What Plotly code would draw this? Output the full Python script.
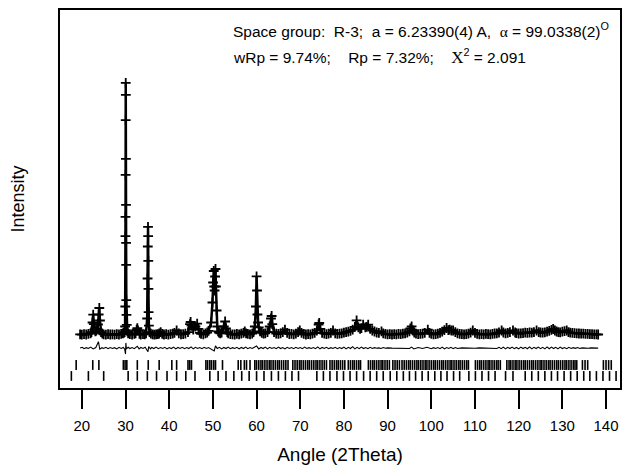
import plotly.graph_objects as go

# ---------------- data ----------------
two_theta_obs = [
    19.6, 20.0, 20.5, 21.0, 21.5, 22.0, 22.2, 22.45, 22.6, 22.75, 22.9, 23.1, 23.3, 23.55, 23.7,
    23.85, 24.0, 24.15, 24.4, 24.7, 25.0, 25.5, 26.0, 26.5, 27.0, 27.5, 28.0, 28.5, 29.0, 29.4,
    29.6, 29.8, 29.9, 29.95, 29.98, 30.0, 30.02, 30.04, 30.05, 30.07, 30.09, 30.11, 30.13, 30.15, 30.18,
    30.22, 30.28, 30.4, 30.6, 31.0, 31.5, 32.0, 32.3, 32.55, 32.7, 32.85, 33.2, 33.5, 34.0, 34.4,
    34.7, 34.95, 35.05, 35.1, 35.15, 35.18, 35.21, 35.24, 35.28, 35.35, 35.5, 35.8, 36.2, 36.6, 37.0,
    37.4, 37.7, 38.05, 38.4, 38.8, 39.3, 39.8, 40.3, 40.8, 41.2, 41.7, 42.2, 42.7, 43.2, 43.7,
    44.3, 44.75, 44.9, 45.1, 45.5, 46.0, 46.4, 46.7, 47.0, 47.3, 47.8, 48.3, 48.7, 49.0, 49.6,
    49.9, 50.05, 50.2, 50.3, 50.4, 50.5, 50.6, 50.7, 50.85, 51.0, 51.2, 51.4, 51.7, 52.0, 52.5,
    52.8, 53.0, 53.3, 53.5, 54.0, 54.5, 55.0, 55.5, 56.0, 56.5, 57.0, 57.3, 57.6, 58.0, 58.5,
    59.0, 59.3, 59.6, 59.85, 60.0, 60.1, 60.2, 60.35, 60.5, 60.8, 61.2, 61.6, 62.0, 62.5, 63.0,
    63.3, 63.45, 63.6, 64.0, 64.5, 65.0, 65.5, 66.0, 66.5, 67.0, 67.5, 68.0, 68.5, 69.0, 69.5,
    69.9, 70.3, 70.8, 71.3, 71.8, 72.3, 72.8, 73.3, 73.8, 74.2, 74.35, 74.6, 75.0, 75.5, 76.0,
    76.5, 77.0, 77.5, 78.0, 78.5, 79.0, 79.5, 80.0, 80.5, 81.0, 81.5, 82.0, 82.5, 82.9, 83.3,
    83.7, 84.0, 84.4, 84.9, 85.2, 85.55, 86.0, 86.5, 87.0, 87.5, 88.0, 88.6, 89.0, 89.5, 90.0,
    90.5, 91.0, 91.5, 92.0, 92.5, 93.0, 93.5, 94.0, 94.5, 95.0, 95.2, 95.5, 95.8, 96.1, 96.5,
    97.0, 97.5, 98.0, 98.5, 99.2, 99.6, 100.0, 100.5, 101.0, 101.5, 102.0, 102.5, 103.0, 103.5, 103.9,
    104.2, 104.6, 105.0, 105.5, 106.0, 106.5, 107.0, 107.5, 108.0, 108.5, 109.0, 109.5, 110.0, 110.5, 111.0,
    111.5, 112.0, 112.5, 113.0, 113.5, 114.0, 114.5, 115.0, 115.5, 116.1, 116.5, 117.0, 117.5, 118.0, 118.7,
    119.2, 119.5, 120.0, 120.5, 121.0, 121.5, 122.0, 122.5, 123.0, 123.5, 124.1, 124.6, 125.0, 125.5, 126.0,
    126.5, 127.0, 127.5, 127.9, 128.3, 128.7, 129.1, 129.5, 130.0, 130.5, 131.0, 131.4, 131.8, 132.3, 132.8,
    133.3, 133.8, 134.3, 134.8, 135.3, 135.8, 136.3, 136.8, 137.3, 137.8, 138.2,
]
intensity_obs = [
    505, 495, 510, 500, 515, 530, 560, 800, 995, 760, 620, 580, 600, 640, 750,
    1000, 1162, 850, 560, 520, 505, 495, 510, 500, 505, 495, 510, 500, 515, 530,
    540, 560, 700, 1200, 2960, 3440, 4490, 5860, 6790, 6490, 4890, 3740, 2790, 2240, 1360,
    990, 740, 580, 530, 510, 500, 515, 530, 620, 660, 600, 515, 500, 510, 505,
    530, 900, 1900, 2700, 3190, 2960, 2340, 1640, 1060, 720, 560, 520, 505, 495, 505,
    510, 525, 560, 515, 500, 510, 495, 510, 520, 540, 600, 530, 505, 510, 520,
    560, 760, 812, 720, 620, 700, 770, 640, 540, 515, 505, 530, 550, 590, 800,
    1300, 1800, 2087, 1700, 1600, 1950, 2137, 1700, 1100, 700, 580, 550, 530, 550, 700,
    825, 650, 560, 530, 510, 505, 500, 515, 505, 520, 540, 580, 530, 515, 505,
    520, 560, 700, 1200, 1955, 1600, 1000, 800, 680, 580, 540, 520, 530, 560, 700,
    900, 962, 760, 560, 520, 515, 530, 560, 620, 540, 510, 515, 505, 520, 560,
    600, 540, 515, 500, 510, 505, 520, 540, 600, 750, 787, 640, 540, 520, 510,
    520, 540, 600, 530, 515, 520, 530, 545, 560, 570, 590, 620, 690, 855, 680,
    640, 660, 745, 680, 690, 745, 640, 600, 575, 550, 540, 580, 530, 515, 505,
    510, 500, 510, 505, 515, 510, 520, 530, 545, 580, 650, 705, 600, 550, 520,
    510, 515, 520, 540, 620, 540, 515, 505, 510, 520, 540, 570, 610, 662, 610,
    620, 600, 600, 560, 530, 515, 510, 505, 510, 520, 545, 600, 540, 515, 505,
    510, 505, 515, 510, 505, 515, 525, 530, 550, 600, 550, 530, 540, 560, 600,
    550, 535, 525, 530, 535, 545, 540, 550, 545, 560, 600, 560, 550, 545, 555,
    570, 590, 615, 637, 600, 575, 560, 555, 570, 585, 600, 560, 545, 540, 535,
    530, 525, 520, 520, 515, 515, 510, 510, 505, 505, 500,
]

two_theta_diff = [
    19.6, 20.1, 20.5, 21.0, 21.5, 22.0, 22.6, 23.2, 23.8, 24.1, 24.6, 25.0, 25.5, 26.0, 26.5,
    27.0, 27.5, 28.0, 28.5, 29.0, 29.5, 29.8, 30.0, 30.08, 30.2, 30.6, 31.0, 31.5, 32.0, 32.7,
    33.1, 33.5, 34.0, 34.5, 35.15, 35.3, 35.7, 36.0, 36.5, 37.0, 37.5, 38.0, 38.5, 39.0, 39.5,
    40.0, 40.5, 41.0, 41.5, 42.0, 42.5, 43.0, 43.5, 44.0, 44.5, 45.0, 45.5, 46.0, 46.5, 47.0,
    47.5, 48.0, 48.5, 49.0, 49.5, 50.3, 50.6, 51.0, 51.5, 52.0, 52.5, 53.0, 53.5, 54.0, 54.5,
    55.0, 55.5, 56.0, 56.5, 57.0, 57.5, 58.0, 58.5, 59.0, 59.5, 60.0, 60.5, 61.0, 61.5, 62.0,
    62.5, 63.0, 63.5, 64.0, 64.5, 65.0, 65.5, 66.0, 66.5, 67.0, 67.5, 68.0, 68.5, 69.0, 69.5,
    70.0, 70.5, 71.0, 71.5, 72.0, 72.5, 73.0, 73.5, 74.0, 74.5, 75.0, 75.5, 76.0, 76.5, 77.0,
    77.5, 78.0, 78.5, 79.0, 79.5, 80.0, 80.5, 81.0, 81.5, 82.0, 82.5, 83.0, 83.5, 84.0, 84.5,
    85.0, 85.5, 86.0, 86.5, 87.0, 87.5, 88.0, 88.5, 89.0, 89.5, 90.0, 91.0, 92.0, 93.0, 94.0,
    95.0, 95.5, 96.0, 97.0, 98.0, 99.0, 100.0, 100.5, 101.0, 101.5, 102.0, 102.5, 103.0, 103.5, 104.0,
    104.5, 105.0, 105.5, 106.0, 107.0, 108.0, 109.0, 110.0, 111.0, 112.0, 113.0, 114.0, 115.0, 115.5, 116.0,
    116.5, 117.0, 117.5, 118.0, 118.5, 119.0, 119.5, 120.0, 120.5, 121.0, 121.5, 122.0, 122.5, 123.0, 123.5,
    124.0, 124.5, 125.0, 125.5, 126.0, 126.5, 127.0, 127.5, 128.0, 128.5, 129.0, 129.5, 130.0, 130.5, 131.0,
    131.5, 132.0, 132.5, 133.0, 133.5, 134.0, 134.5, 135.0, 135.5, 136.0, 136.5, 137.0, 137.5, 138.2,
]
intensity_diff = [
    160, 180, 145, 170, 150, 185, 140, 175, 320, 135, 170, 150, 180, 145, 175,
    150, 170, 140, 180, 150, 175, 140, 10, 290, 140, 180, 150, 175, 145, 205,
    140, 175, 150, 180, 70, 200, 140, 175, 150, 185, 145, 175, 150, 180, 140,
    175, 150, 185, 140, 175, 150, 180, 145, 175, 150, 190, 140, 180, 150, 175,
    145, 180, 150, 175, 145, 90, 215, 150, 180, 140, 175, 150, 185, 145, 170,
    150, 180, 140, 175, 150, 185, 145, 175, 150, 180, 215, 140, 175, 150, 185,
    140, 180, 150, 175, 145, 185, 150, 175, 140, 180, 150, 175, 145, 180, 150,
    175, 145, 185, 150, 170, 150, 175, 145, 190, 140, 175, 150, 180, 145, 170,
    150, 180, 145, 175, 150, 185, 140, 180, 150, 195, 140, 180, 145, 185, 150,
    175, 145, 180, 150, 170, 155, 165, 150, 175, 155, 165, 160, 162, 158, 165,
    150, 185, 140, 175, 150, 180, 145, 170, 150, 175, 145, 185, 140, 175, 150,
    180, 145, 175, 150, 165, 160, 165, 155, 165, 160, 158, 165, 150, 180, 145,
    185, 140, 180, 150, 185, 145, 175, 140, 185, 150, 180, 145, 190, 140, 180,
    150, 185, 145, 180, 140, 190, 145, 185, 150, 180, 140, 185, 150, 175, 145,
    180, 150, 170, 155, 175, 150, 165, 160, 170, 155, 165, 160, 165, 160,
]

reflections_phase1 = [
    18.7, 22.5, 23.9, 29.5, 29.9, 30.3, 32.7, 35.2, 37.7, 40.6, 41.7, 44.3, 44.7, 45.1, 48.4,
    48.8, 49.3, 49.7, 50.2, 50.6, 52.2, 55.8, 56.4, 57.2, 57.7, 58.5,
    59.6, 60.0, 60.5, 61.0, 61.4, 61.9, 62.4, 62.9, 63.3, 63.8, 64.3, 64.8, 65.2, 65.7, 66.2,
    66.7, 67.2, 68.3, 68.8, 69.3, 69.8, 70.2, 70.7, 71.2, 71.7, 72.1, 72.6, 73.1, 73.6, 74.0,
    74.5, 75.0, 75.5, 76.0, 76.8, 77.3, 77.8, 78.3, 78.7, 79.2, 79.7, 80.2, 81.0, 81.5, 82.0,
    82.4, 82.9, 83.4, 83.8, 85.6, 86.1, 86.6, 87.0, 87.5, 88.0, 88.5, 88.9, 89.4, 89.9, 90.4,
    91.2, 91.7, 92.2, 92.7, 93.3, 93.8, 94.3, 94.8, 95.2, 95.7, 96.2, 96.7, 97.1, 97.6, 98.1,
    98.6, 99.0, 99.5, 100.0, 100.5, 100.9, 101.4, 101.9, 102.4, 102.8, 103.3, 103.8, 104.3, 104.7, 105.2,
    105.7, 106.2, 106.6, 107.1, 107.6, 108.1, 108.5, 110.1, 110.6, 111.1, 111.5, 112.0, 112.5, 113.0, 113.4,
    113.9, 114.4, 114.9, 115.3, 115.8, 117.3, 117.8, 118.2, 118.7, 119.2, 119.6, 120.1, 120.6, 121.1, 121.5,
    122.0, 122.5, 123.0, 123.4, 123.9, 124.4, 124.9, 125.3, 125.8, 126.3, 126.8, 127.2, 127.7, 128.2, 128.7,
    129.1, 129.6, 130.1, 130.6, 131.0, 131.5, 132.0, 132.5, 132.9, 133.3, 134.6, 135.2, 135.8, 139.4, 140.0,
    140.6, 141.2,
]
reflections_phase2 = [
    17.6, 21.5, 25.0, 30.6, 32.7, 35.0, 37.1, 39.5, 41.7, 43.8, 45.9,
    49.3, 51.2, 53.0, 54.8, 56.6, 58.3, 60.0, 61.7, 63.4, 65.0, 66.6, 68.1, 69.6,
    73.8, 75.3, 76.8, 78.4, 79.9, 81.4, 82.9, 84.5, 86.0, 87.5, 89.0, 90.6, 92.1, 93.6,
    95.0, 96.4, 97.9, 99.3, 100.8, 102.2, 103.6, 105.1, 106.5,
    108.6, 110.1, 111.6, 113.1, 114.6, 117.0, 118.7,
    121.5, 123.0, 124.5, 126.0, 127.5, 128.9, 130.4, 131.9, 133.4, 134.9, 136.3, 137.8, 139.3, 140.8, 142.3,
]

x_tick_values = [20, 30, 40, 50, 60, 70, 80, 90, 100, 110, 120, 130, 140]
x_tick_labels = ["20", "30", "40", "50", "60", "70", "80", "90", "100", "110", "120", "130", "140"]

title_x = "Angle (2Theta)"
title_y = "Intensity"
info_line1 = ("Space group:  R-3;  a = 6.23390(4) A,  "
              "<span style='font-family:Liberation Serif'>α</span> = 99.0338(2)<sup>O</sup>")
info_line2 = ("wRp = 9.74%;    Rp = 7.32%;    "
              "<span style='font-family:Liberation Serif;font-size:17px'>X</span><sup>2</sup> = 2.091")

# ---------------- presentation constants ----------------
ROW1_Y = -262
ROW2_Y = -537
FONT = "Liberation Sans, Arial, sans-serif"

fig = go.Figure()

# observed (crosses) with calculated profile line
fig.add_trace(go.Scatter(
    x=two_theta_obs, y=intensity_obs, mode="lines+markers",
    line=dict(color="black", width=2.5),
    marker=dict(symbol="cross-thin", size=7, line=dict(color="black", width=1.8)),
    showlegend=False, hoverinfo="skip",
))
# difference curve
fig.add_trace(go.Scatter(
    x=two_theta_diff, y=intensity_diff, mode="lines",
    line=dict(color="black", width=1.1),
    showlegend=False, hoverinfo="skip",
))
# reflection markers
for refl, yrow in ((reflections_phase1, ROW1_Y), (reflections_phase2, ROW2_Y)):
    fig.add_trace(go.Scatter(
        x=refl, y=[yrow] * len(refl), mode="markers",
        marker=dict(symbol="line-ns", size=7, line=dict(color="black", width=1.6)),
        showlegend=False, hoverinfo="skip",
    ))

fig.update_layout(
    width=624, height=469,
    margin=dict(l=60, r=2, t=10, b=81),
    paper_bgcolor="white", plot_bgcolor="white",
    font=dict(family=FONT, color="black"),
    xaxis=dict(
        range=[15.0, 143.2], tickvals=x_tick_values, ticktext=x_tick_labels,
        ticks="outside", ticklen=19, tickwidth=2, tickcolor="black",
        ticklabelstandoff=4,
        showline=True, linecolor="black", linewidth=2, mirror=True,
        showgrid=False, zeroline=False,
        tickfont=dict(size=15, family=FONT),
        title=dict(text=title_x, font=dict(size=19, family=FONT), standoff=15),
    ),
    yaxis=dict(
        range=[-837.5, 8612.5], showticklabels=False, ticks="",
        showline=True, linecolor="black", linewidth=2, mirror=True,
        showgrid=False, zeroline=False,
        title=dict(text=title_y, font=dict(size=18, family=FONT), standoff=29),
    ),
    annotations=[
        dict(text=info_line1, xref="paper", yref="paper", x=0.306, y=0.948,
             xanchor="left", yanchor="middle", showarrow=False,
             font=dict(size=15.5, family=FONT, color="black")),
        dict(text=info_line2, xref="paper", yref="paper", x=0.306, y=0.878,
             xanchor="left", yanchor="middle", showarrow=False,
             font=dict(size=15.5, family=FONT, color="black")),
    ],
)

fig.write_html("out.html")
